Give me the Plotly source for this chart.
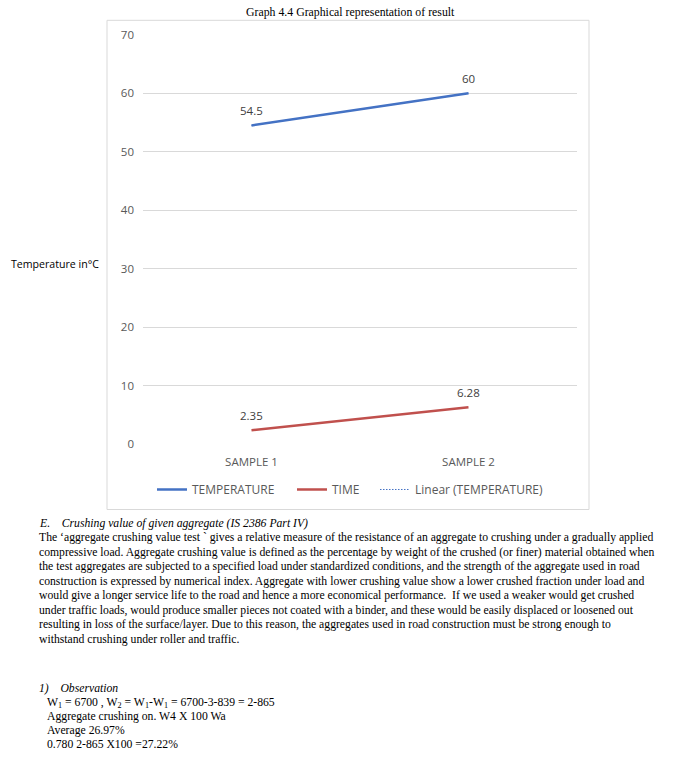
import numpy as np
import plotly.graph_objects as go

W, H = 675, 765

# ---- data ----
categories = ["SAMPLE 1", "SAMPLE 2"]
temperature = [54.5, 60]
time_vals = [2.35, 6.28]
y_ticks = [0, 10, 20, 30, 40, 50, 60, 70]

title_text = "Graph 4.4 Graphical representation of result"
y_title = "Temperature in°C"

heading_e = "E.    Crushing value of given aggregate (IS 2386 Part IV)"
para_lines = [
    "The ‘aggregate crushing value test ` gives a relative measure of the resistance of an aggregate to crushing under a gradually applied",
    "compressive load. Aggregate crushing value is defined as the percentage by weight of the crushed (or finer) material obtained when",
    "the test aggregates are subjected to a specified load under standardized conditions, and the strength of the aggregate used in road",
    "construction is expressed by numerical index. Aggregate with lower crushing value show a lower crushed fraction under load and",
    "would give a longer service life to the road and hence a more economical performance.  If we used a weaker would get crushed",
    "under traffic loads, would produce smaller pieces not coated with a binder, and these would be easily displaced or loosened out",
    "resulting in loss of the surface/layer. Due to this reason, the aggregates used in road construction must be strong enough to",
    "withstand crushing under roller and traffic.",
]
heading_obs = "1)    Observation"
obs_lines = [
    "W<sub>1</sub> = 6700 , W<sub>2</sub> = W<sub>1</sub>-W<sub>1</sub> = 6700-3-839 = 2-865",
    "Aggregate crushing on. W4 X 100 Wa",
    "Average 26.97%",
    "0.780 2-865 X100 =27.22%",
]

# the captured page appears vertically scaled by ~0.98 about its centre;
# map intended screen rows to figure rows
V_SCALE = 0.98
V_OFF = 7.7


def px(x):
    return x / W


def py(y):
    return 1 - ((y - V_OFF) / V_SCALE) / H


SANS = "'Open Sans', 'Noto Sans', sans-serif"
SERIF = "'Liberation Serif', 'Times New Roman', serif"
BLUE = "#4472C4"
RED = "#C0504D"

fig = go.Figure()

# linear trend of temperature
xi = np.arange(len(categories))
coef = np.polyfit(xi, temperature, 1)
trend = np.polyval(coef, xi)

fig.add_trace(go.Scatter(x=categories, y=trend, mode="lines", name="Linear (TEMPERATURE)",
                         line=dict(color=BLUE, width=1, dash="1.5px,1.5px"),
                         hoverinfo="skip", legend="legend3"))
fig.add_trace(go.Scatter(x=categories, y=temperature, mode="lines", name="TEMPERATURE",
                         line=dict(color=BLUE, width=2.5), legend="legend"))
fig.add_trace(go.Scatter(x=categories, y=time_vals, mode="lines", name="TIME",
                         line=dict(color=RED, width=2.5), legend="legend2"))

annotations = []
for series in (temperature, time_vals):
    for c, v in zip(categories, series):
        annotations.append(dict(x=c, y=v, xref="x", yref="y", text=str(v), showarrow=False,
                                yshift=15, font=dict(family=SANS, size=11.5, color="#404040")))

annotations.append(dict(x=px(350), y=py(12), xref="paper", yref="paper", text=title_text,
                        showarrow=False, xanchor="center", yanchor="middle",
                        font=dict(family=SERIF, size=11.8, color="#000000")))
annotations.append(dict(x=px(9), y=py(264), xref="paper", yref="paper", text=y_title,
                        showarrow=False, xanchor="left", yanchor="middle",
                        font=dict(family=SANS, size=10.6, color="#000000")))

# body text
annotations.append(dict(x=px(37), y=py(523), xref="paper", yref="paper", text="<i>" + heading_e + "</i>",
                        showarrow=False, xanchor="left", yanchor="middle",
                        font=dict(family=SERIF, size=11.7, color="#000000")))
for i, line in enumerate(para_lines):
    annotations.append(dict(x=px(37), y=py(537 + i * 14.5), xref="paper", yref="paper", text=line,
                            showarrow=False, xanchor="left", yanchor="middle",
                            font=dict(family=SERIF, size=11.7, color="#000000")))
annotations.append(dict(x=px(37), y=py(688), xref="paper", yref="paper", text="<i>" + heading_obs + "</i>",
                        showarrow=False, xanchor="left", yanchor="middle",
                        font=dict(family=SERIF, size=11.7, color="#000000")))
for i, line in enumerate(obs_lines):
    annotations.append(dict(x=px(45), y=py(702 + i * 14), xref="paper", yref="paper", text=line,
                            showarrow=False, xanchor="left", yanchor="middle",
                            font=dict(family=SERIF, size=11.7, color="#000000")))

shapes = [
    dict(type="rect", xref="paper", yref="paper", x0=px(107), x1=px(589), y0=py(509), y1=py(20),
         line=dict(color="#D9D9D9", width=1), fillcolor="rgba(0,0,0,0)", layer="below"),
]

legend_common = dict(orientation="h", yanchor="middle", y=py(489), xanchor="left",
                     font=dict(family=SANS, size=12, color="#595959"),
                     bgcolor="rgba(0,0,0,0)", itemwidth=30)

fig.update_layout(
    width=W, height=H,
    margin=dict(l=0, r=0, t=0, b=0),
    paper_bgcolor="white", plot_bgcolor="white",
    showlegend=True,
    legend=dict(legend_common, x=px(152)),
    legend2=dict(legend_common, x=px(292)),
    legend3=dict(legend_common, x=px(375)),
    xaxis=dict(domain=[px(143), px(577)], range=[-0.5, 1.5], type="category",
               showgrid=False, showline=False, zeroline=False, ticks="",
               tickfont=dict(family=SANS, size=11.5, color="#595959"), ticklabelstandoff=10,
               fixedrange=True),
    yaxis=dict(domain=[py(443.5), py(34.5)], range=[0, 70], tickvals=y_ticks,
               showgrid=True, gridcolor="#D9D9D9", gridwidth=1, zeroline=False,
               showline=False, ticks="",
               tickfont=dict(family=SANS, size=11.5, color="#595959"), ticklabelstandoff=8,
               fixedrange=True),
    annotations=annotations,
    shapes=shapes,
)

post = (
    "document.documentElement.style.cssText='margin:0;padding:0;overflow:hidden;height:765px;';"
    "document.body.style.cssText='margin:0;padding:0;overflow:hidden;height:765px;';"
    "var gd=document.getElementById('{plot_id}');"
    "gd.style.position='fixed';gd.style.top='0px';gd.style.left='0px';"
)

fig.write_html("out.html", config={"displayModeBar": False}, post_script=post)
